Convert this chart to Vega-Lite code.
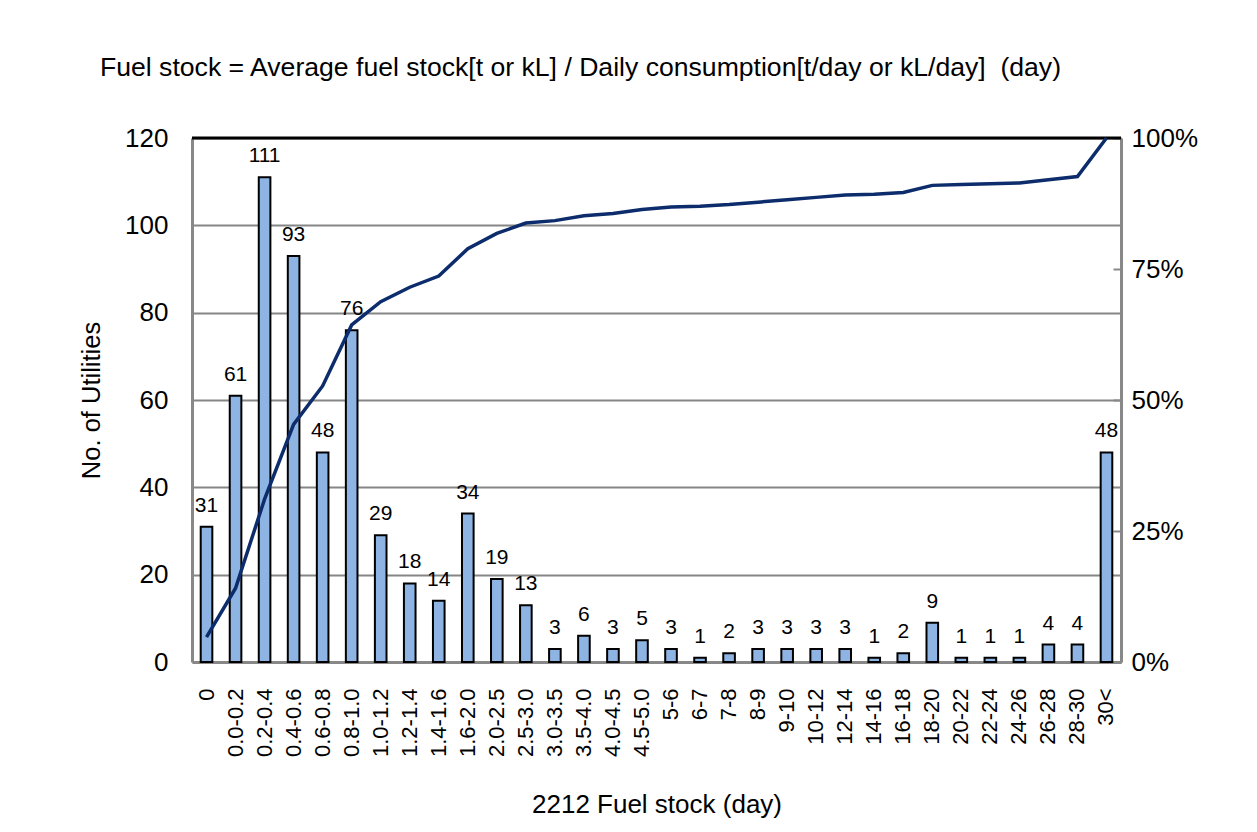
{
  "$schema": "https://vega.github.io/schema/vega-lite/v6.json",
  "width": 929,
  "height": 524,
  "autosize": {"type": "none"},
  "padding": {"left": 192, "top": 138, "right": 136, "bottom": 170},
  "background": "white",
  "title": {
    "text": "Fuel stock = Average fuel stock[t or kL] / Daily consumption[t/day or kL/day] \u00a0(day)",
    "anchor": "start",
    "frame": "group",
    "dx": -92,
    "offset": 43,
    "fontSize": 26.6,
    "font": "Liberation Sans",
    "fontWeight": "normal",
    "color": "black"
  },
  "data": {
    "values": [
      {"range": "0", "count": 31, "cum": 0.0475},
      {"range": "0.0-0.2", "count": 61, "cum": 0.1409},
      {"range": "0.2-0.4", "count": 111, "cum": 0.3109},
      {"range": "0.4-0.6", "count": 93, "cum": 0.4533},
      {"range": "0.6-0.8", "count": 48, "cum": 0.5268},
      {"range": "0.8-1.0", "count": 76, "cum": 0.6432},
      {"range": "1.0-1.2", "count": 29, "cum": 0.6876},
      {"range": "1.2-1.4", "count": 18, "cum": 0.7152},
      {"range": "1.4-1.6", "count": 14, "cum": 0.7366},
      {"range": "1.6-2.0", "count": 34, "cum": 0.7887},
      {"range": "2.0-2.5", "count": 19, "cum": 0.8178},
      {"range": "2.5-3.0", "count": 13, "cum": 0.8377},
      {"range": "3.0-3.5", "count": 3, "cum": 0.8423},
      {"range": "3.5-4.0", "count": 6, "cum": 0.8515},
      {"range": "4.0-4.5", "count": 3, "cum": 0.856},
      {"range": "4.5-5.0", "count": 5, "cum": 0.8637},
      {"range": "5-6", "count": 3, "cum": 0.8683},
      {"range": "6-7", "count": 1, "cum": 0.8698},
      {"range": "7-8", "count": 2, "cum": 0.8729},
      {"range": "8-9", "count": 3, "cum": 0.8775},
      {"range": "9-10", "count": 3, "cum": 0.8821},
      {"range": "10-12", "count": 3, "cum": 0.8867},
      {"range": "12-14", "count": 3, "cum": 0.8913},
      {"range": "14-16", "count": 1, "cum": 0.8928},
      {"range": "16-18", "count": 2, "cum": 0.8959},
      {"range": "18-20", "count": 9, "cum": 0.9096},
      {"range": "20-22", "count": 1, "cum": 0.9112},
      {"range": "22-24", "count": 1, "cum": 0.9127},
      {"range": "24-26", "count": 1, "cum": 0.9142},
      {"range": "26-28", "count": 4, "cum": 0.9204},
      {"range": "28-30", "count": 4, "cum": 0.9265},
      {"range": "30<", "count": 48, "cum": 1.0}
    ]
  },
  "layer": [
    {
      "layer": [
        {
          "mark": {"type": "bar", "fill": "#8EB4E3", "stroke": "black", "strokeWidth": 2},
          "encoding": {
            "x": {
              "field": "range",
              "type": "nominal",
              "sort": null,
              "scale": {"paddingInner": 0.6, "paddingOuter": 0.3},
              "axis": {
                "title": "2212 Fuel stock (day)",
                "labelAngle": -90,
                "labelFontSize": 22,
                "labelOverlap": false,
                "labelLimit": 300,
                "labelPadding": 26,
                "ticks": false,
                "domainColor": "#888888",
                "domainWidth": 3,
                "titleFontSize": 26,
                "titlePadding": 35
              }
            },
            "y": {
              "field": "count",
              "type": "quantitative",
              "scale": {"domain": [0, 120]},
              "axis": {
                "title": "No. of Utilities",
                "values": [0, 20, 40, 60, 80, 100, 120],
                "grid": true,
                "gridColor": "#868686",
                "gridWidth": 2,
                "domainColor": "#888888",
                "domainWidth": 3,
                "ticks": false,
                "labelFontSize": 26,
                "labelPadding": 24,
                "titleFontSize": 25.5,
                "titlePadding": 20
              }
            }
          }
        },
        {
          "mark": {"type": "text", "baseline": "bottom", "dy": -11, "fontSize": 21, "font": "Liberation Sans", "color": "black"},
          "encoding": {
            "x": {"field": "range", "type": "nominal", "sort": null},
            "y": {"field": "count", "type": "quantitative"},
            "text": {"field": "count", "type": "quantitative"}
          }
        },
        {
          "data": {"values": [{"top": 120}]},
          "mark": {"type": "rule", "color": "black", "strokeWidth": 3},
          "encoding": {
            "y": {"field": "top", "type": "quantitative"}
          }
        }
      ]
    },
    {
      "mark": {"type": "line", "color": "#0C2C6C", "strokeWidth": 3.5},
      "encoding": {
        "x": {"field": "range", "type": "nominal", "sort": null},
        "y": {
          "field": "cum",
          "type": "quantitative",
          "scale": {"domain": [0, 1]},
          "axis": {
            "orient": "right",
            "title": null,
            "values": [0, 0.25, 0.5, 0.75, 1],
            "format": ".0%",
            "grid": false,
            "domainColor": "#888888",
            "domainWidth": 3,
            "tickSize": -8,
            "tickColor": "#888888",
            "tickWidth": 2,
            "labelFontSize": 26,
            "labelPadding": 18
          }
        }
      }
    }
  ],
  "resolve": {"scale": {"y": "independent"}},
  "config": {
    "view": {"stroke": null},
    "font": "Liberation Sans",
    "axis": {
      "labelFont": "Liberation Sans",
      "titleFont": "Liberation Sans",
      "labelColor": "black",
      "titleColor": "black",
      "titleFontWeight": "normal"
    }
  }
}
